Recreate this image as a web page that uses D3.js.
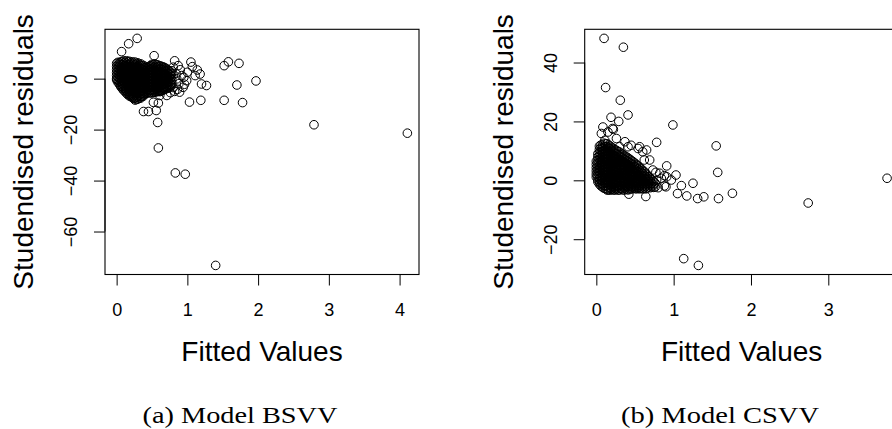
<!DOCTYPE html>
<html><head><meta charset="utf-8">
<script src="https://cdn.jsdelivr.net/npm/d3@7"></script>
<style>body{margin:0;background:#fff}svg{display:block}</style>
</head><body>
<svg id="c" width="892" height="429"></svg>
<script>
// ---------- DATA ----------
// Model BSVV: dense core, columns of [fitted, [residuals...]]
const bsvvCore = [
 [0.00,[6.0,4.8,3.6,2.4,1.2,0.0,-0.5]],
 [0.02,[6.4,5.4,4.2,3.0,1.8,0.6,-0.6,-1.5]],
 [0.04,[6.2,5.0,3.8,2.6,1.4,0.2,-1.0,-2.2]],
 [0.06,[6.6,5.6,4.4,3.2,2.0,0.8,-0.4,-1.6,-2.8,-3.2]],
 [0.08,[6.6,5.4,4.2,3.0,1.8,0.6,-0.6,-1.8,-3.0,-3.9]],
 [0.10,[7.0,6.0,4.8,3.6,2.4,1.2,0.0,-1.2,-2.4,-3.6,-4.6]],
 [0.12,[6.5,5.3,4.1,2.9,1.7,0.5,-0.7,-1.9,-3.1,-4.3,-5.1]],
 [0.14,[7.0,6.0,4.8,3.6,2.4,1.2,0.0,-1.2,-2.4,-3.6,-4.8,-5.8]],
 [0.16,[6.6,5.4,4.2,3.0,1.8,0.6,-0.6,-1.8,-3.0,-4.2,-5.4,-6.3]],
 [0.18,[6.8,5.8,4.6,3.4,2.2,1.0,-0.2,-1.4,-2.6,-3.8,-5.0,-6.2,-6.8]],
 [0.20,[6.2,5.0,3.8,2.6,1.4,0.2,-1.0,-2.2,-3.4,-4.6,-5.8,-7.0]],
 [0.22,[6.6,5.6,4.4,3.2,2.0,0.8,-0.4,-1.6,-2.8,-4.0,-5.2,-6.4,-7.4]],
 [0.24,[6.1,4.9,3.7,2.5,1.3,0.1,-1.1,-2.3,-3.5,-4.7,-5.9,-7.1,-7.8]],
 [0.26,[6.5,5.5,4.3,3.1,1.9,0.7,-0.5,-1.7,-2.9,-4.1,-5.3,-6.5,-7.7,-8.4]],
 [0.28,[5.9,4.7,3.5,2.3,1.1,-0.1,-1.3,-2.5,-3.7,-4.9,-6.1,-7.3,-8.2]],
 [0.30,[6.2,5.1,3.9,2.7,1.5,0.3,-0.9,-2.1,-3.3,-4.5,-5.7,-6.9,-8.0]],
 [0.32,[5.5,4.3,3.1,1.9,0.7,-0.5,-1.7,-2.9,-4.1,-5.3,-6.5,-7.7]],
 [0.34,[5.8,4.9,3.7,2.5,1.3,0.1,-1.1,-2.3,-3.5,-4.7,-5.9,-7.1,-7.6]],
 [0.36,[5.1,3.9,2.7,1.5,0.3,-0.9,-2.1,-3.3,-4.5,-5.7,-7.0]],
 [0.38,[5.2,4.5,3.3,2.1,0.9,-0.3,-1.5,-2.7,-3.9,-5.1,-6.3,-6.8]],
 [0.40,[4.3,3.1,1.9,0.7,-0.5,-1.7,-2.9,-4.1,-5.3,-5.9]],
 [0.42,[4.6,3.6,2.4,1.2,0.0,-1.2,-2.4,-3.6,-4.8,-5.8]],
 [0.44,[4.2,3.0,1.8,0.6,-0.6,-1.8,-3.0,-4.2,-5.4]],
 [0.46,[4.8,3.6,2.4,1.2,0.0,-1.2,-2.4,-3.6,-4.8,-5.6]],
 [0.48,[5.1,3.9,2.7,1.5,0.3,-0.9,-2.1,-3.3,-4.5,-5.5]],
 [0.50,[5.6,4.9,3.7,2.5,1.3,0.1,-1.1,-2.3,-3.5,-4.7,-5.6]],
 [0.52,[5.5,4.3,3.1,1.9,0.7,-0.5,-1.7,-2.9,-4.1,-5.3]],
 [0.54,[5.8,4.8,3.6,2.4,1.2,0.0,-1.2,-2.4,-3.6,-4.8,-5.4]],
 [0.56,[5.4,4.2,3.0,1.8,0.6,-0.6,-1.8,-3.0,-4.2,-5.1]],
 [0.58,[5.4,4.6,3.4,2.2,1.0,-0.2,-1.4,-2.6,-3.8,-5.0]],
 [0.60,[5.0,3.8,2.6,1.4,0.2,-1.0,-2.2,-3.4,-4.6,-5.1]],
 [0.62,[5.0,4.1,2.9,1.7,0.5,-0.7,-1.9,-3.1,-4.3,-5.0]],
 [0.64,[4.7,3.5,2.3,1.1,-0.1,-1.3,-2.5,-3.7,-4.7]],
 [0.66,[4.6,3.7,2.5,1.3,0.1,-1.1,-2.3,-3.5,-4.5]],
 [0.68,[4.3,3.1,1.9,0.7,-0.5,-1.7,-2.9,-4.1]],
 [0.70,[4.0,2.9,1.7,0.5,-0.7,-1.9,-3.1,-4.0]],
 [0.72,[3.5,2.3,1.1,-0.1,-1.3,-2.5,-3.7]],
 [0.74,[3.2,2.0,0.8,-0.4,-1.6,-2.8,-3.5]],
 [0.76,[2.6,1.4,0.2,-1.0,-2.2,-3.1]],
 [0.78,[2.0,0.8,-0.4,-1.6,-2.7]]
];
// Model BSVV: scattered points [fitted, residual]
const bsvvSparse = [
 [0.29,15.8],[0.17,13.7],[0.07,10.6],[0.53,9.0],[0.82,7.0],[0.87,5.1],[1.05,6.5],[1.07,4.7],
 [1.14,3.4],[1.18,1.8],[1.11,1.2],[1.20,-2.1],[1.27,-2.7],[1.03,-9.2],[1.19,-8.5],[0.89,-5.3],
 [0.94,-3.4],[0.99,-0.8],[0.92,1.2],[0.85,-0.1],[0.78,3.1],[0.71,-6.6],[0.61,-6.6],[0.52,-9.3],
 [0.59,-9.6],[0.38,-12.9],[0.45,-12.9],[0.56,-12.5],[0.58,-17.2],[0.59,-27.2],[0.83,-37.0],
 [0.97,-37.5],[1.40,-73.3],[2.79,-18.1],[4.11,-21.4],[1.52,5.1],[1.58,6.6],[1.73,6.0],
 [1.97,-0.9],[1.70,-2.5],[1.52,-8.5],[1.78,-9.4],[0.80,4.5],[0.84,2.0],[0.88,-2.0],[0.80,-3.5],
 [0.82,-5.0],[0.76,-5.5],[0.95,0.5],[0.90,3.5],[1.00,2.5],[0.96,-2.2],[0.86,-4.2]
];
// Model CSVV: dense core
const csvvCore = [
 [0.00,[6.5,5.4,4.3,3.2,2.1,1.1]],
 [0.02,[9.0,7.9,6.8,5.7,4.6,3.5,2.4,1.3,0.2,-0.5]],
 [0.04,[11.6,10.5,9.4,8.3,7.2,6.1,5.0,3.9,2.8,1.7,0.6,-0.5,-1.3]],
 [0.06,[12.0,11.0,9.9,8.8,7.7,6.6,5.5,4.4,3.3,2.2,1.1,0.0,-1.1,-1.9]],
 [0.08,[12.0,10.9,9.8,8.7,7.6,6.5,5.4,4.3,3.2,2.1,1.0,-0.1,-1.2,-2.3]],
 [0.10,[12.6,11.4,10.3,9.2,8.1,7.0,5.9,4.8,3.7,2.6,1.5,0.4,-0.7,-1.8,-2.7]],
 [0.12,[12.4,11.3,10.2,9.1,8.0,6.9,5.8,4.7,3.6,2.5,1.4,0.3,-0.8,-1.9,-2.9]],
 [0.14,[12.4,11.4,10.3,9.2,8.1,7.0,5.9,4.8,3.7,2.6,1.5,0.4,-0.7,-1.8,-2.9,-3.3]],
 [0.16,[12.0,10.9,9.8,8.7,7.6,6.5,5.4,4.3,3.2,2.1,1.0,-0.1,-1.2,-2.3,-3.3]],
 [0.18,[11.6,10.6,9.5,8.4,7.3,6.2,5.1,4.0,2.9,1.8,0.7,-0.4,-1.5,-2.6,-3.3]],
 [0.20,[11.2,10.1,9.0,7.9,6.8,5.7,4.6,3.5,2.4,1.3,0.2,-0.9,-2.0,-3.1]],
 [0.22,[10.8,9.7,8.6,7.5,6.4,5.3,4.2,3.1,2.0,0.9,-0.2,-1.3,-2.4,-3.3]],
 [0.24,[10.4,9.3,8.2,7.1,6.0,4.9,3.8,2.7,1.6,0.5,-0.6,-1.7,-2.8,-3.3]],
 [0.26,[10.2,9.1,8.0,6.9,5.8,4.7,3.6,2.5,1.4,0.3,-0.8,-1.9,-3.0]],
 [0.28,[9.8,8.7,7.6,6.5,5.4,4.3,3.2,2.1,1.0,-0.1,-1.2,-2.3,-3.3]],
 [0.30,[9.6,8.3,7.2,6.1,5.0,3.9,2.8,1.7,0.6,-0.5,-1.6,-2.7,-3.3]],
 [0.32,[9.2,8.1,7.0,5.9,4.8,3.7,2.6,1.5,0.4,-0.7,-1.8,-2.9]],
 [0.34,[8.8,7.7,6.6,5.5,4.4,3.3,2.2,1.1,0.0,-1.1,-2.2,-3.2]],
 [0.36,[8.4,7.3,6.2,5.1,4.0,2.9,1.8,0.7,-0.4,-1.5,-2.6,-3.3]],
 [0.38,[8.1,7.0,5.9,4.8,3.7,2.6,1.5,0.4,-0.7,-1.8,-2.9]],
 [0.40,[7.8,6.7,5.6,4.5,3.4,2.3,1.2,0.1,-1.0,-2.1,-3.2]],
 [0.42,[7.4,6.3,5.2,4.1,3.0,1.9,0.8,-0.3,-1.4,-2.5,-3.2]],
 [0.44,[7.0,5.9,4.8,3.7,2.6,1.5,0.4,-0.7,-1.8,-2.9]],
 [0.46,[6.6,5.5,4.4,3.3,2.2,1.1,0.0,-1.1,-2.2,-2.9]],
 [0.48,[6.2,5.1,4.0,2.9,1.8,0.7,-0.4,-1.5,-2.6]],
 [0.50,[5.8,4.6,3.5,2.4,1.3,0.2,-0.9,-2.0,-2.8]],
 [0.52,[5.3,4.2,3.1,2.0,0.9,-0.2,-1.3,-2.4,-2.9]],
 [0.54,[4.9,3.8,2.7,1.6,0.5,-0.6,-1.7,-2.7]],
 [0.56,[4.4,3.3,2.2,1.1,0.0,-1.1,-2.2,-2.9]],
 [0.58,[3.9,2.8,1.7,0.6,-0.5,-1.6,-2.7]],
 [0.60,[3.4,2.3,1.2,0.1,-1.0,-2.1,-2.9]],
 [0.62,[2.9,1.8,0.7,-0.4,-1.5,-2.6]],
 [0.64,[2.4,1.3,0.2,-0.9,-2.0,-2.9]],
 [0.66,[1.8,0.7,-0.4,-1.5,-2.6]],
 [0.68,[1.1,0.0,-1.1,-2.2]],
 [0.70,[0.6,-0.5,-1.6,-2.5]],
 [0.72,[0.1,-1.0,-2.2]],
 [0.74,[-0.4,-1.6,-2.4]],
 [0.76,[-0.9,-2.3]]
];
// Model CSVV: scattered points
const csvvSparse = [
 [0.10,48.2],[0.35,45.2],[0.12,31.5],[0.31,27.2],[0.41,22.2],[0.19,21.4],[0.29,20.0],[0.99,18.8],
 [0.22,17.3],[0.085,18.1],[0.15,16.4],[0.21,17.6],[0.065,15.9],[0.11,13.6],[0.26,14.2],
 [0.30,11.4],[0.41,11.4],[0.56,11.4],[0.65,10.3],[0.78,12.9],[0.69,6.9],[0.91,4.9],[1.03,1.8],
 [0.91,1.2],[1.25,-1.0],[1.10,-1.8],[1.55,11.7],[1.57,2.7],[1.76,-4.4],[0.37,13.1],[0.45,11.9],
 [0.60,9.7],[0.62,6.9],[0.73,3.5],[0.78,0.1],[0.82,2.4],[0.54,10.8],[0.88,1.6],[1.05,-4.5],
 [1.17,-5.3],[1.31,-6.2],[1.39,-5.6],[1.58,-6.2],[2.74,-7.7],[3.76,0.7],[1.13,-26.6],[1.32,-28.9],
 [0.77,2.7],[0.84,0.7],[0.88,-1.9],[0.64,-5.5],[0.42,-4.7],[0.90,-2.2],[0.97,0.1],[0.80,-2.5]
];
const bsvvXTicks = [0,1,2,3,4];
const bsvvYTicks = [-60,-40,-20,0];
const csvvXTicks = [0,1,2,3];
const csvvYTicks = [-20,0,20,40];
const xTitle = "Fitted Values";
const yTitle = "Studendised residuals";
const captions = ["(a) Model BSVV","(b) Model CSVV"];

// ---------- DRAW ----------
const svg = d3.select("#c");
function flatten(core, sparse){
  const pts = [];
  core.forEach(([x, ys]) => ys.forEach(y => pts.push([x, y])));
  sparse.forEach(p => pts.push(p));
  return pts;
}
function rPad(ext){ const r = ext[1]-ext[0]; return [ext[0]-0.04*r, ext[1]+0.04*r]; }
const sans = "'Liberation Sans', Arial, sans-serif";

function panel(pts, xTicks, yTicks, left, caption, capX, capW){
  const top = 29.3, bottom = 274.5, w = 314;
  const x = d3.scaleLinear().domain(rPad(d3.extent(pts, d=>d[0]))).range([left, left+w]);
  const y = d3.scaleLinear().domain(rPad(d3.extent(pts, d=>d[1]))).range([bottom, top]);
  const g = svg.append("g");
  g.append("g").selectAll("circle").data(pts).join("circle")
    .attr("cx", d=>x(d[0])).attr("cy", d=>y(d[1])).attr("r", 4.3)
    .attr("fill","none").attr("stroke","#000").attr("stroke-width",1);
  g.append("rect").attr("x",left).attr("y",top).attr("width",w).attr("height",bottom-top)
    .attr("fill","none").attr("stroke","#000").attr("stroke-width",1.1);
  const xa = g.append("g").attr("transform",`translate(0,${bottom})`)
    .call(d3.axisBottom(x).tickValues(xTicks).tickSize(11).tickSizeOuter(0).tickFormat(d3.format("d")));
  xa.select(".domain").attr("stroke","#000").attr("d",`M${x(xTicks[0])},0H${x(xTicks[xTicks.length-1])}`);
  xa.selectAll("line").attr("stroke","#000");
  xa.selectAll("text").attr("font-family",sans).attr("font-size",18).attr("fill","#000")
    .attr("dy",null).attr("y",41.5);
  const ya = g.append("g").attr("transform",`translate(${left},0)`)
    .call(d3.axisLeft(y).tickValues(yTicks).tickSize(11).tickSizeOuter(0).tickFormat(d3.format("d")));
  ya.select(".domain").attr("stroke","#000").attr("d",`M0,${y(yTicks[0])}V${y(yTicks[yTicks.length-1])}`);
  ya.selectAll("line").attr("stroke","#000");
  ya.selectAll(".tick text").attr("x",null).attr("dy",null)
    .attr("transform","translate(-28,0) rotate(-90)").attr("text-anchor","middle")
    .attr("font-family",sans).attr("font-size",18).attr("fill","#000");
  g.append("text").attr("x", left+w/2).attr("y",361).attr("text-anchor","middle")
    .attr("font-family",sans).attr("font-size",28).text(xTitle);
  g.append("text").attr("transform",`translate(${left-72},${(top+bottom)/2}) rotate(-90)`).attr("text-anchor","middle")
    .attr("font-family",sans).attr("font-size",28).text(yTitle);
  svg.append("text").attr("x",capX).attr("y",423).attr("text-anchor","middle")
    .attr("font-family","'Liberation Serif','DejaVu Serif',serif").attr("font-size",24)
    .attr("textLength",capW).attr("lengthAdjust","spacingAndGlyphs").text(caption);
}
panel(flatten(bsvvCore, bsvvSparse), bsvvXTicks, bsvvYTicks, 105, captions[0], 240, 195);
panel(flatten(csvvCore, csvvSparse), csvvXTicks, csvvYTicks, 584.7, captions[1], 720, 198);
</script>
</body></html>
